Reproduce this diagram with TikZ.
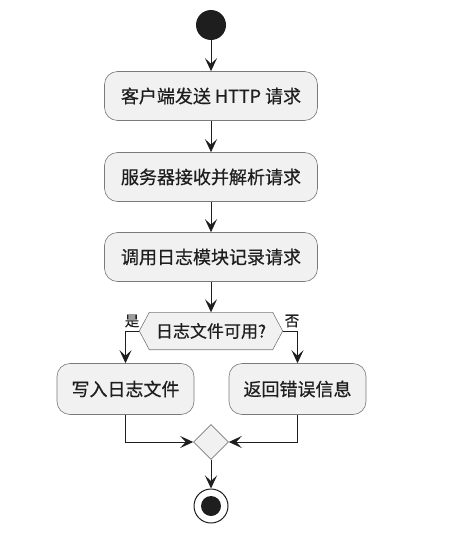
\documentclass[tikz,border=0pt]{standalone}
\usepackage{fontspec}
\newfontfamily\cjk[FakeBold=0.5]{Noto Sans CJK SC}
\usetikzlibrary{arrows.meta,calc,shapes.geometric}
\definecolor{boxfill}{HTML}{F1F1F1}
\definecolor{boxline}{HTML}{7A7A7A}
\definecolor{ink}{HTML}{1E1E1E}
\begin{document}
\begin{tikzpicture}[x=1pt,y=-1pt,
  act/.style={draw=boxline, fill=boxfill, line width=0.6pt, rounded corners=13pt,
    minimum height=49pt, inner sep=0pt, font=\cjk\fontsize{18}{21}\selectfont, text=ink},
  flow/.style={draw=ink, line width=1pt, -{Stealth[length=13pt,width=12pt,inset=5.5pt]}},
  guard/.style={font=\cjk\fontsize{14.5}{17}\selectfont, text=ink, inner sep=0pt}]
  \useasboundingbox (0,0) rectangle (474,551);
  \fill[white] (0,0) rectangle (474,551);

  % start / activities
  \node[circle, fill=ink, minimum size=30pt, inner sep=0pt] (start) at (211,25) {};
  \node[act, minimum width=213pt] (send)  at (211,96)  {客户端发送 HTTP 请求};
  \node[act, minimum width=213pt] (parse) at (211,177) {服务器接收并解析请求};
  \node[act, minimum width=213pt] (log)   at (211,257) {调用日志模块记录请求};

  % decision: hexagon drawn around a plain text node
  \node[minimum width=143pt, minimum height=37pt, inner sep=0pt] (dec) at (211,331) {};
  \filldraw[draw=boxline, fill=boxfill, line width=0.6pt]
    (dec.west) -- ($(dec.north west)+(10,0)$) -- ($(dec.north east)+(-10,0)$)
    -- (dec.east) -- ($(dec.south east)+(-10,0)$) -- ($(dec.south west)+(10,0)$) -- cycle;
  \node[font=\cjk\fontsize{17}{20}\selectfont, text=ink] (dectext) at (dec) {日志文件可用?};

  \node[act, minimum width=137pt, minimum height=51pt] (write) at (125.5,389) {写入日志文件};
  \node[act, minimum width=137pt, minimum height=51pt] (err)   at (297.5,389) {返回错误信息};

  % merge / end
  \node[diamond, draw=boxline, fill=boxfill, line width=0.6pt, minimum width=35pt,
        minimum height=35pt, inner sep=0pt] (merge) at (211,442) {};
  \node[circle, draw=ink, fill=white, line width=1pt, minimum size=34pt, inner sep=0pt] (stop) at (211,506) {};
  \node[circle, fill=ink, minimum size=20pt, inner sep=0pt] (stopdot) at (stop) {};

  % connectors
  \draw[flow] (start) -- (send);
  \draw[flow] (send) -- (parse);
  \draw[flow] (parse) -- (log);
  \draw[flow] (log) -- (dec.north);
  \draw[flow] (dec.west) -| (write.north);
  \draw[flow] (dec.east) -| (err.north);
  \node[guard] (yes) at (132,321) {是};
  \node[guard] (no)  at (292,321) {否};
  \draw[flow] (write.south) |- (merge.west);
  \draw[flow] (err.south) |- (merge.east);
  \draw[flow] (merge) -- (stop);
\end{tikzpicture}
\end{document}
